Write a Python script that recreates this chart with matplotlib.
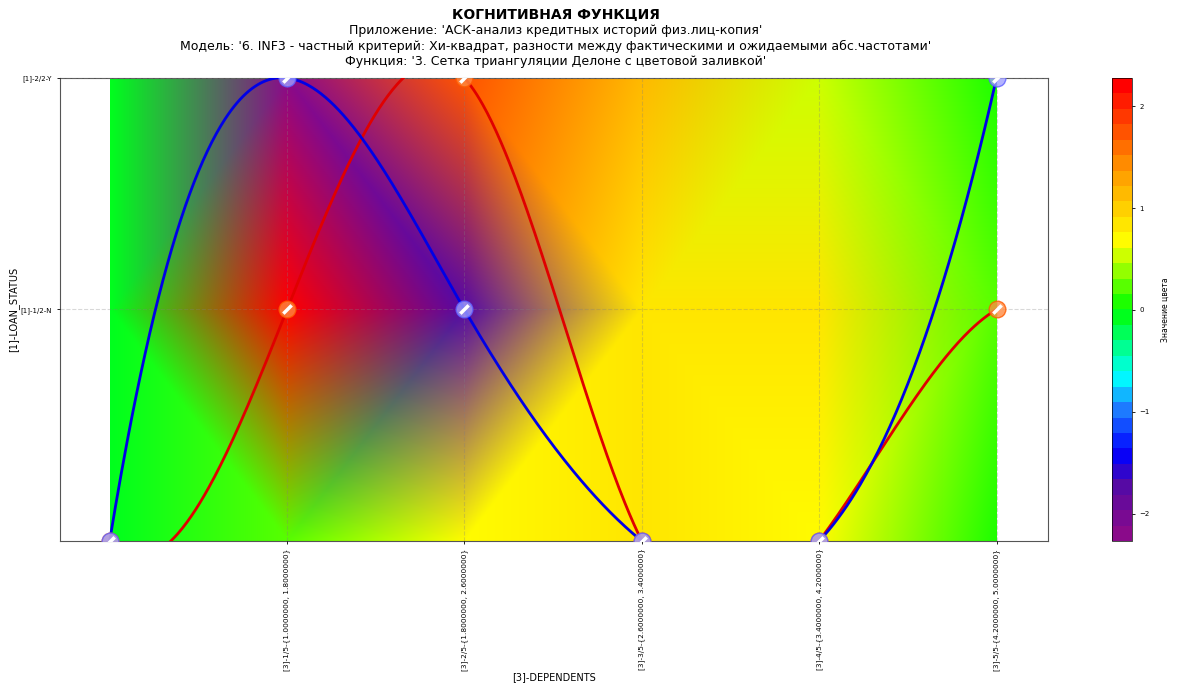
import numpy as np
import matplotlib
matplotlib.use("Agg")
import matplotlib.pyplot as plt
import matplotlib.tri as mtri
from matplotlib.colors import LinearSegmentedColormap, Normalize
from matplotlib.cm import ScalarMappable

plt.rcParams['font.family'] = ['DejaVu Sans']

# ---------------- data ----------------
x_labels = ["[3]-1/5-{1.0000000, 1.8000000}",
            "[3]-2/5-{1.8000000, 2.6000000}",
            "[3]-3/5-{2.6000000, 3.4000000}",
            "[3]-4/5-{3.4000000, 4.2000000}",
            "[3]-5/5-{4.2000000, 5.0000000}"]
y_labels = ["[1]-1/2-N", "[1]-2/2-Y"]

x_cols = [0, 1, 2, 3, 4, 5]
y_rows = [0, 1, 2]
# colour values per grid node, rows = y (0,1,2), cols = x (0..5)
z_row0 = [0.0, 0.3, 0.7, 0.8, 0.7, 0.1]
z_row1 = [0.0, 2.28, -1.7, 0.8, 0.8, 0.3]
z_row2 = [-0.1, -2.27, 1.8, 1.1, 0.6, 0.1]

blue_y = [0, 2, 1, 0, 0, 2]
red_y = [0, 1, 2, 0, 0, 1]

vmin, vmax = -2.27, 2.28

title = "КОГНИТИВНАЯ ФУНКЦИЯ"
subtitle = ("Приложение: 'АСК-анализ кредитных историй физ.лиц-копия'\n"
            "Модель: '6. INF3 - частный критерий: Хи-квадрат, разности между фактическими и ожидаемыми абс.частотами'\n"
            "Функция: '3. Сетка триангуляции Делоне с цветовой заливкой'")

# ---------------- helpers ----------------
def notaknot_spline(xk, yk, xs):
    xk = np.asarray(xk, float); yk = np.asarray(yk, float)
    n = len(xk)
    h = np.diff(xk)
    A = np.zeros((n, n)); b = np.zeros(n)
    for i in range(1, n - 1):
        A[i, i - 1] = h[i - 1]
        A[i, i] = 2 * (h[i - 1] + h[i])
        A[i, i + 1] = h[i]
        b[i] = 6 * ((yk[i + 1] - yk[i]) / h[i] - (yk[i] - yk[i - 1]) / h[i - 1])
    A[0, 0] = h[1]; A[0, 1] = -(h[0] + h[1]); A[0, 2] = h[0]
    A[-1, -3] = h[-1]; A[-1, -2] = -(h[-2] + h[-1]); A[-1, -1] = h[-2]
    M = np.linalg.solve(A, b)
    idx = np.clip(np.searchsorted(xk, xs) - 1, 0, n - 2)
    hi = h[idx]
    t1 = xk[idx + 1] - xs
    t0 = xs - xk[idx]
    return (M[idx] * t1 ** 3 / (6 * hi) + M[idx + 1] * t0 ** 3 / (6 * hi)
            + (yk[idx] / hi - M[idx] * hi / 6) * t1
            + (yk[idx + 1] / hi - M[idx + 1] * hi / 6) * t0)

cmap = LinearSegmentedColormap.from_list(
    "cog",
    [(0.0, "#8a0a8a"), (0.10, "#5a0aa0"), (0.18, "#0000ff"), (0.28, "#1e7fff"),
     (0.35, "#00ffff"), (0.50, "#00ff00"), (0.65, "#ffff00"), (0.81, "#ff9900"),
     (1.0, "#ff0000")], N=30)
norm = Normalize(vmin=vmin, vmax=vmax)

# ---------------- figure ----------------
fig = plt.figure(figsize=(11.86, 6.86), dpi=100)
ax = fig.add_axes([0.0506, 0.2114, 0.8330, 0.6749])
cax = fig.add_axes([0.9376, 0.2114, 0.0169, 0.6749])

X, Y = np.meshgrid(x_cols, y_rows)
Z = np.array([z_row0, z_row1, z_row2])
tri = mtri.Triangulation(X.ravel().astype(float), Y.ravel().astype(float))
rgba = cmap(norm(Z.ravel()))
gx = np.linspace(0, 5, 900)
gy = np.linspace(0, 2, 400)
GX, GY = np.meshgrid(gx, gy)
img = np.ones((len(gy), len(gx), 3))
for c in range(3):
    it = mtri.LinearTriInterpolator(tri, rgba[:, c])
    img[..., c] = np.clip(np.ma.filled(it(GX, GY), 1.0), 0, 1)
ax.imshow(img, extent=[0, 5, 0, 2], origin="lower", aspect="auto",
          interpolation="bilinear", zorder=1)

xs = np.linspace(0, 5, 600)
ax.plot(xs, notaknot_spline(x_cols, red_y, xs), color="#e00000", lw=2, zorder=3)
ax.plot(xs, notaknot_spline(x_cols, blue_y, xs), color="#0000e6", lw=2, zorder=4)

ax.plot(x_cols, red_y, 'o', ms=12, color="#ff8a40", alpha=0.8, mec="#ff5a00", zorder=5)
ax.plot(x_cols, red_y, ls='none', marker=[(-1, -1), (1, 1)], ms=6, mew=2.5, color="white", zorder=6)
ax.plot(x_cols, blue_y, 'o', ms=12, color="#a0a0ff", alpha=0.8, mec="#6060ff", zorder=7)
ax.plot(x_cols, blue_y, ls='none', marker=[(-1, -1), (1, 1)], ms=6, mew=2.5, color="white", zorder=8)

ax.set_xlim(-0.28, 5.29)
ax.set_ylim(0, 2)
ax.set_xticks([1, 2, 3, 4, 5])
ax.set_xticklabels(x_labels, rotation=90, fontsize=5.3)
ax.set_yticks([1, 2])
ax.set_yticklabels(y_labels, fontsize=5)
ax.tick_params(length=2, width=0.6)
ax.grid(True, linestyle="--", color="gray", alpha=0.3, lw=0.8, zorder=2)
ax.set_axisbelow(False)
for s in ax.spines.values():
    s.set_color("#555555")
    s.set_linewidth(0.8)
ax.set_xlabel("[3]-DEPENDENTS", fontsize=7)
ax.xaxis.set_label_coords(0.5, -0.283)
ax.set_ylabel("[1]-LOAN_STATUS", fontsize=7)
ax.yaxis.set_label_coords(-0.041, 0.5)

sm = ScalarMappable(norm=norm, cmap=cmap)
cb = fig.colorbar(sm, cax=cax)
cb.set_ticks([-2, -1, 0, 1, 2])
cb.ax.tick_params(labelsize=5, length=2, width=0.6)
cb.outline.set_linewidth(0.5)
cb.set_label("Значение цвета", fontsize=5.5, labelpad=8)

fig.text(0.4685, 0.979, title, ha="center", va="center", fontsize=10, fontweight="bold")
fig.text(0.4685, 0.933, subtitle, ha="center", va="center", fontsize=9, linespacing=1.2)

fig.savefig("out.png", dpi=100)
